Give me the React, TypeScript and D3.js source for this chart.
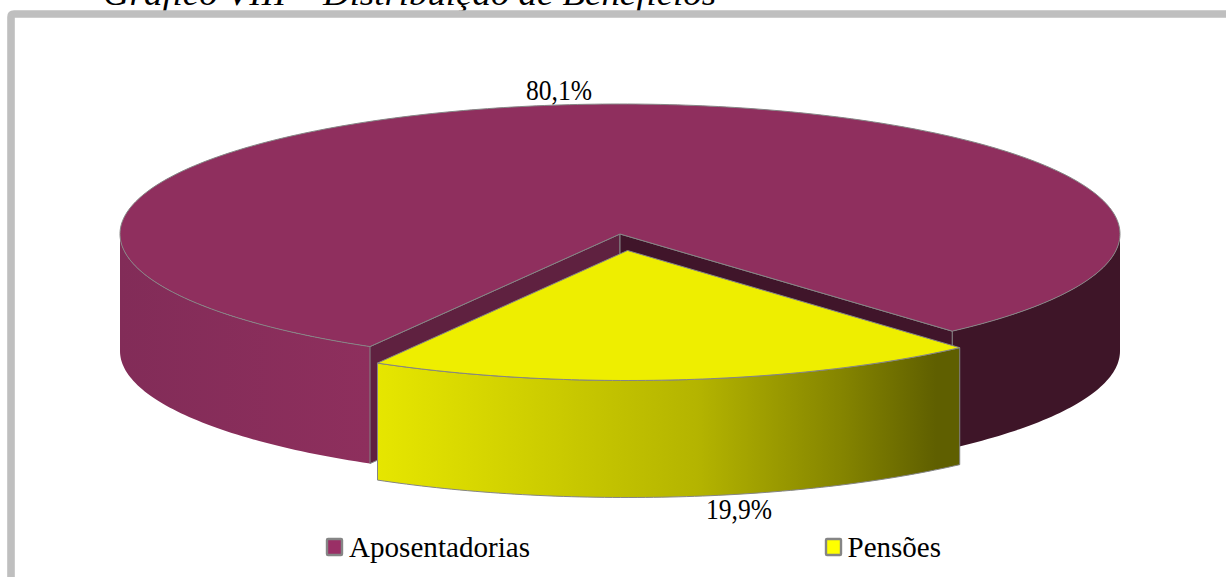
import React from "react";
import * as d3 from "d3";

const categories = ["Aposentadorias", "Pensões"];
const shares = [80.1, 19.9];
const shareLabels = ["80,1%", "19,9%"];
const title = "Gráfico VIII – Distribuição de Benefícios";

const W = 1226, H = 577;
const cx = 620, cy = 234, rx = 500, ry = 130, depth = 117;
const explode: [number, number] = [7.5, 16.5];
const serif = "'Liberation Serif', 'Times New Roman', serif";
const startAngle = (210.0 * Math.PI) / 180;

const slices = d3.pie<number>().sort(null).startAngle(startAngle).endAngle(startAngle + 2 * Math.PI)(shares);
const xScale = d3.scaleLinear().domain([-1, 1]).range([-rx, rx]);
const yScale = d3.scaleLinear().domain([-1, 1]).range([-ry, ry]);
const px = (a: number) => xScale(Math.sin(a));
const py = (a: number) => yScale(-Math.cos(a));
const line = d3.line<[number, number]>();

function samples(a0: number, a1: number) {
  const n = Math.max(2, Math.ceil(Math.abs(a1 - a0) * 60));
  return d3.range(n + 1).map((i) => a0 + ((a1 - a0) * i) / n);
}
function wall(a0: number, a1: number) {
  const top = samples(a0, a1).map((a) => [px(a), py(a)] as [number, number]);
  const bottom = top.map(([x, y]) => [x, y + depth] as [number, number]).reverse();
  return line([...top, ...bottom]) + "Z";
}
function topFace(a0: number, a1: number) {
  const rim = samples(a0, a1).map((a) => [px(a), py(a)] as [number, number]);
  return line([[0, 0], ...rim]) + "Z";
}
function cutWall(a: number) {
  const p: [number, number] = [px(a), py(a)];
  return line([[0, 0], p, [p[0], p[1] + depth], [0, depth]]) + "Z";
}

const apo = slices[0];
const pen = slices[1];
const D = 2 * Math.PI;
const E = "#858585";

export default function App() {
  const apoA0 = apo.startAngle;
  const apoA1 = apo.endAngle;
  const apoLeftEnd = 1.5 * Math.PI; // left extreme of the disc
  const apoRightEnd = D + Math.PI / 2; // right extreme of the disc
  return (
    <svg width={W} height={H} style={{ position: "absolute", left: 0, top: 0, background: "#fff" }}>
      <defs>
        <linearGradient id="penSide" gradientUnits="userSpaceOnUse" x1={px(pen.endAngle)} x2={px(pen.startAngle)} y1="0" y2="0">
          <stop offset="0" stopColor="#e6e600" />
          <stop offset="0.25" stopColor="#d0d000" />
          <stop offset="0.55" stopColor="#b4b400" />
          <stop offset="0.8" stopColor="#848400" />
          <stop offset="0.96" stopColor="#5f5f00" />
          <stop offset="1" stopColor="#5f5f00" />
        </linearGradient>
        <linearGradient id="apoSide" gradientUnits="userSpaceOnUse" x1={-rx} x2={px(apoA0)} y1="0" y2="0">
          <stop offset="0" stopColor="#822c58" />
          <stop offset="1" stopColor="#8e2f5d" />
        </linearGradient>
      </defs>
      <text x={103} y={5} fontFamily={serif} fontStyle="italic" fontSize={33} fill="#000" textLength={613} lengthAdjust="spacingAndGlyphs">{title}</text>
      <path d={`M${W},14 H14 Q11,14 11,17 V${H}`} fill="none" stroke="#bfbfbf" strokeWidth={7.6} />

      <g transform={`translate(${cx},${cy})`}>
        <path d={wall(apoRightEnd, apoA1)} fill="#3e1528" />
        <path d={wall(apoA0, apoLeftEnd)} fill="url(#apoSide)" />
        <path d={cutWall(apoA0)} fill="#5f2140" stroke={E} strokeWidth={1} />
        <path d={cutWall(apoA1)} fill="#40152a" stroke={E} strokeWidth={1} />
        <path d={topFace(apoA0, apoA1)} fill="#8f2f5e" stroke={E} strokeWidth={1} />
        <g transform={`translate(${explode[0]},${explode[1]})`}>
          <path d={wall(pen.startAngle, pen.endAngle)} fill="url(#penSide)" stroke={E} strokeWidth={1} />
          <path d={topFace(pen.startAngle, pen.endAngle)} fill="#eeee00" stroke={E} strokeWidth={1} />
        </g>
      </g>

      <g fontFamily={serif} fill="#000" fontSize={30}>
        <text x={526} y={100} textLength={66} lengthAdjust="spacingAndGlyphs">{shareLabels[0]}</text>
        <text x={706} y={519} textLength={66} lengthAdjust="spacingAndGlyphs">{shareLabels[1]}</text>
        <rect x={327} y={539} width={15} height={16} rx={1} fill="#9a2f66" stroke={E} strokeWidth={2.4} />
        <text x={349} y={557} textLength={181} lengthAdjust="spacingAndGlyphs">{categories[0]}</text>
        <rect x={826} y={539} width={15} height={16} rx={1} fill="#ffff00" stroke={E} strokeWidth={2.4} />
        <text x={847.5} y={557} textLength={93.5} lengthAdjust="spacingAndGlyphs">{categories[1]}</text>
      </g>
    </svg>
  );
}
